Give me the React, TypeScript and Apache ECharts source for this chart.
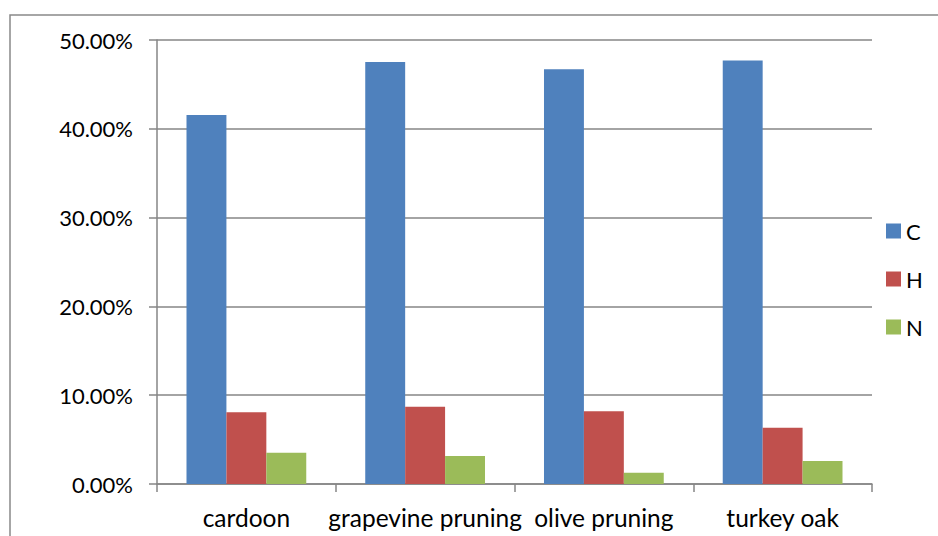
import React, { useEffect, useRef } from "react";
import * as echarts from "echarts";

const categories = ["cardoon", "grapevine pruning", "olive pruning", "turkey oak"];
const seriesNames = ["C", "H", "N"];
const valuesC = [0.4155, 0.4752, 0.467, 0.477];
const valuesH = [0.0807, 0.087, 0.0819, 0.0634];
const valuesN = [0.0352, 0.0315, 0.0127, 0.0259];
const colors = ["#4F81BD", "#C0504D", "#9BBB59"];

export default function App() {
  const ref = useRef<HTMLDivElement>(null);
  useEffect(() => {
    if (!ref.current) return;
    const chart = echarts.init(ref.current, null, { renderer: "svg" });
    const font = "Lato, 'Open Sans', sans-serif";
    const data = [valuesC, valuesH, valuesN];
    chart.setOption({
      animation: false,
      backgroundColor: "#ffffff",
      textStyle: { fontFamily: font },
      graphic: [
        {
          type: "rect",
          shape: { x: 10, y: 15, width: 1000, height: 600 },
          style: { fill: "none", stroke: "#898989", lineWidth: 1.5 },
          silent: true,
        },
      ],
      grid: { left: 157, top: 40, right: 66, bottom: 52, containLabel: false },
      legend: {
        orient: "vertical",
        left: 881,
        top: 215,
        itemWidth: 15,
        itemHeight: 15,
        itemGap: 26,
        icon: "rect",
        textStyle: { fontFamily: font, fontSize: 22, color: "#000" },
        data: seriesNames,
      },
      xAxis: {
        type: "category",
        data: categories,
        axisLine: { show: true, lineStyle: { color: "#868686", width: 1.5 } },
        axisTick: { show: true, length: 8, alignWithLabel: false, lineStyle: { color: "#868686", width: 1.5 } },
        axisLabel: { fontFamily: font, fontSize: 24.5, color: "#000", margin: 21, interval: 0 },
        splitLine: { show: false },
      },
      yAxis: {
        type: "value",
        min: 0,
        max: 0.5,
        interval: 0.1,
        axisLine: { show: true, lineStyle: { color: "#868686", width: 1.5 } },
        axisTick: { show: true, length: 8, lineStyle: { color: "#868686", width: 1.5 } },
        axisLabel: {
          fontFamily: font,
          fontSize: 22,
          color: "#000",
          margin: 24,
          formatter: (v: number) => (v * 100).toFixed(2) + "%",
        },
        splitLine: { show: true, lineStyle: { color: "#868686", width: 1.5 } },
      },
      series: seriesNames.map((name, i) => ({
        name,
        type: "bar",
        data: data[i],
        barGap: "0%",
        barCategoryGap: "33%",
        itemStyle: { color: colors[i] },
      })),
    });
    return () => chart.dispose();
  }, []);
  return (
    <div
      ref={ref}
      style={{ position: "fixed", left: 0, top: 0, width: 938, height: 536 }}
    />
  );
}
